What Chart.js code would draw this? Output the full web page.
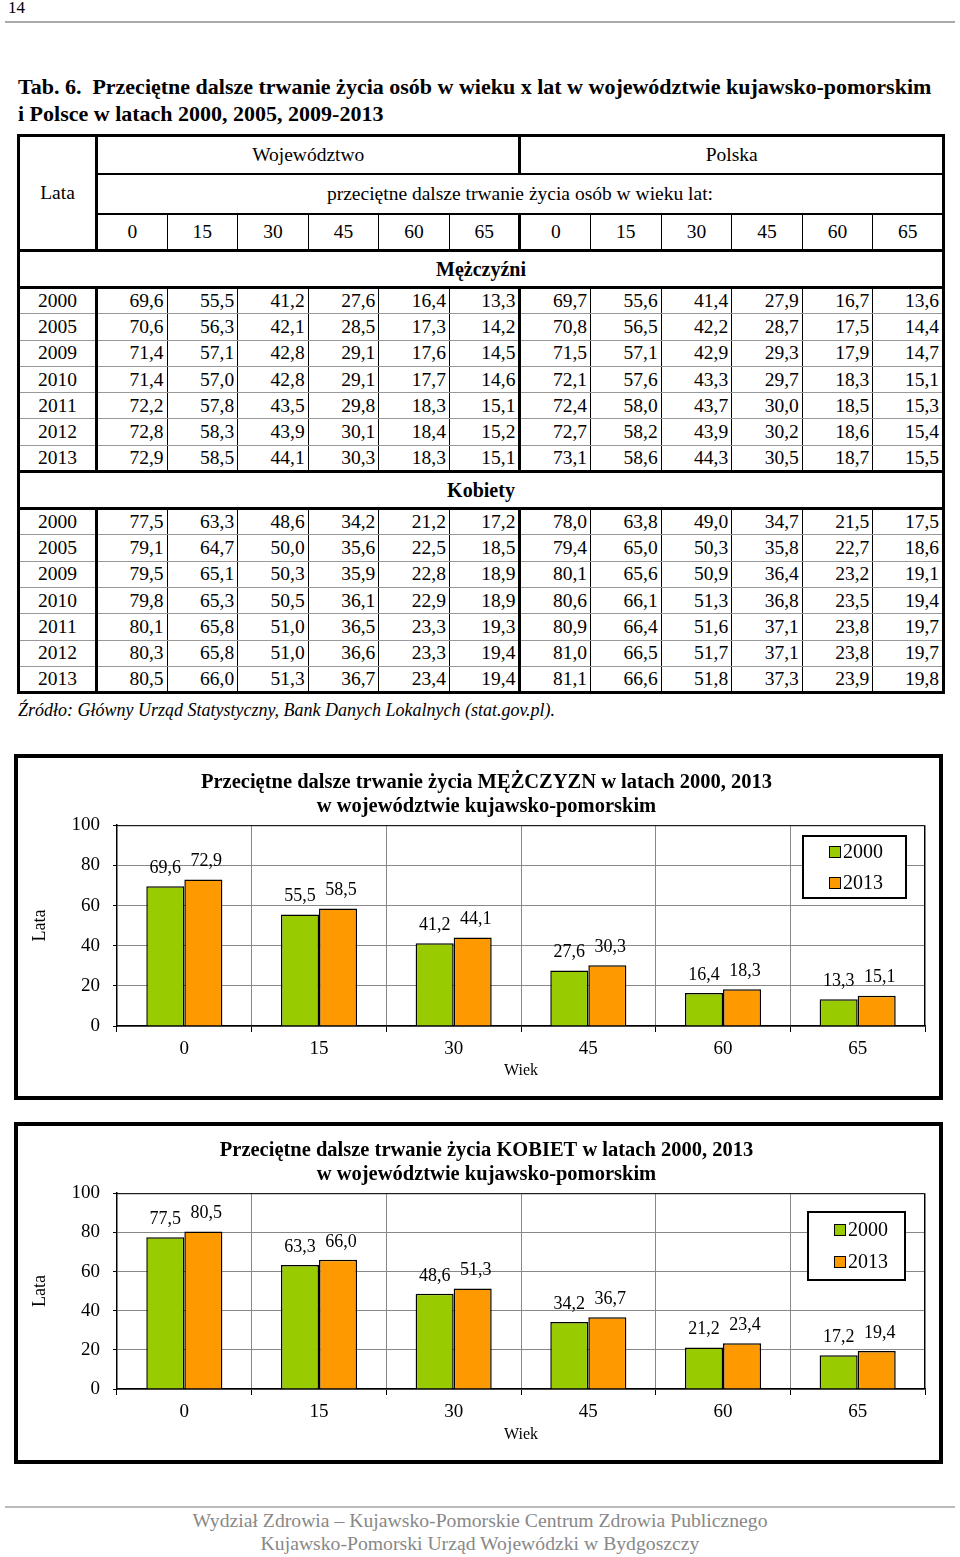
<!DOCTYPE html>
<html lang="pl">
<head>
<meta charset="UTF-8">
<title>Przeciętne dalsze trwanie życia - kujawsko-pomorskie</title>
<script src="https://cdn.jsdelivr.net/npm/chart.js"></script>
<style>
    body {
        margin: 0;
        width: 960px;
        height: 1557px;
        position: relative;
        font-family: "Liberation Serif", serif;
        color: #000;
        background: #fff;
    }
    .abs { position: absolute; }
    #pageNo { left: 8px; top: -2px; font-size: 17px; }
    #topLine { left: 5px; top: 21px; width: 950px; border-top: 2px solid #aaa; }
    #heading { left: 18px; top: 73px; font-size: 22px; font-weight: bold; line-height: 27px; white-space: nowrap; }

    /* table */
    #tbl {
        left: 17px; top: 134px; width: 928px;
        border-collapse: collapse;
        table-layout: fixed;
        border: 3px solid #000;
        font-size: 19.5px;
    }
    #tbl td { padding: 0; border: 1px solid #000; line-height: 20px; }
    #tbl td.c { text-align: center; }
    #tbl td.r { text-align: right; padding-right: 3px; }
    #tbl tr.data td { border-top: 1px solid #999; border-bottom: 1px solid #999; }
    #tbl td.thickR { border-right: 3px solid #000; }
    #tbl tr.sec td { border-top: 3px solid #000; border-bottom: 3px solid #000; font-weight: bold; font-size: 20px; text-align: center; }
    #tbl tr.h1 td { border-bottom: 2px solid #000; }
    #tbl tr.h2 td { border-bottom: 2px solid #000; }

    #source { left: 18px; top: 700px; font-size: 18px; font-style: italic; white-space: nowrap; }

    .chartBox { left: 14px; width: 921px; border: 4px solid #000; }
    .chartBox canvas { display: block; }

    #footLine { left: 5px; top: 1506px; width: 950px; border-top: 2px solid #bbb; }
    #footer { left: 0; top: 1509px; width: 960px; text-align: center; color: #888; font-size: 19.7px; line-height: 23px; }
</style>
</head>
<body>
    <div id="pageNo" class="abs">14</div>
    <div id="topLine" class="abs"></div>
    <div id="heading" class="abs">Tab. 6.&nbsp; Przeciętne dalsze trwanie życia osób w wieku x lat w województwie kujawsko-pomorskim<br>i Polsce w latach 2000, 2005, 2009-2013</div>

    <table id="tbl" class="abs"></table>

    <div id="source" class="abs">Źródło: Główny Urząd Statystyczny, Bank Danych Lokalnych (stat.gov.pl).</div>

    <div class="abs chartBox" style="top:754px; height:338px;">
        <canvas id="menChart" width="921" height="338"></canvas>
    </div>
    <div class="abs chartBox" style="top:1122px; height:334px;">
        <canvas id="womenChart" width="921" height="334"></canvas>
    </div>

    <div id="footLine" class="abs"></div>
    <div id="footer" class="abs">Wydział Zdrowia – Kujawsko-Pomorskie Centrum Zdrowia Publicznego<br>Kujawsko-Pomorski Urząd Wojewódzki w Bydgoszczy</div>

<script>
// ---- data ----
const years = ['2000', '2005', '2009', '2010', '2011', '2012', '2013'];
const ages = ['0', '15', '30', '45', '60', '65'];

// Mężczyźni - województwo / Polska (rows follow years)
const menWoj = [
    [69.6, 55.5, 41.2, 27.6, 16.4, 13.3],
    [70.6, 56.3, 42.1, 28.5, 17.3, 14.2],
    [71.4, 57.1, 42.8, 29.1, 17.6, 14.5],
    [71.4, 57.0, 42.8, 29.1, 17.7, 14.6],
    [72.2, 57.8, 43.5, 29.8, 18.3, 15.1],
    [72.8, 58.3, 43.9, 30.1, 18.4, 15.2],
    [72.9, 58.5, 44.1, 30.3, 18.3, 15.1]
];
const menPol = [
    [69.7, 55.6, 41.4, 27.9, 16.7, 13.6],
    [70.8, 56.5, 42.2, 28.7, 17.5, 14.4],
    [71.5, 57.1, 42.9, 29.3, 17.9, 14.7],
    [72.1, 57.6, 43.3, 29.7, 18.3, 15.1],
    [72.4, 58.0, 43.7, 30.0, 18.5, 15.3],
    [72.7, 58.2, 43.9, 30.2, 18.6, 15.4],
    [73.1, 58.6, 44.3, 30.5, 18.7, 15.5]
];
// Kobiety - województwo / Polska
const womenWoj = [
    [77.5, 63.3, 48.6, 34.2, 21.2, 17.2],
    [79.1, 64.7, 50.0, 35.6, 22.5, 18.5],
    [79.5, 65.1, 50.3, 35.9, 22.8, 18.9],
    [79.8, 65.3, 50.5, 36.1, 22.9, 18.9],
    [80.1, 65.8, 51.0, 36.5, 23.3, 19.3],
    [80.3, 65.8, 51.0, 36.6, 23.3, 19.4],
    [80.5, 66.0, 51.3, 36.7, 23.4, 19.4]
];
const womenPol = [
    [78.0, 63.8, 49.0, 34.7, 21.5, 17.5],
    [79.4, 65.0, 50.3, 35.8, 22.7, 18.6],
    [80.1, 65.6, 50.9, 36.4, 23.2, 19.1],
    [80.6, 66.1, 51.3, 36.8, 23.5, 19.4],
    [80.9, 66.4, 51.6, 37.1, 23.8, 19.7],
    [81.0, 66.5, 51.7, 37.1, 23.8, 19.7],
    [81.1, 66.6, 51.8, 37.3, 23.9, 19.8]
];

// chart series (województwo, 2000 vs 2013)
const men2000 = [69.6, 55.5, 41.2, 27.6, 16.4, 13.3];
const men2013 = [72.9, 58.5, 44.1, 30.3, 18.3, 15.1];
const women2000 = [77.5, 63.3, 48.6, 34.2, 21.2, 17.2];
const women2013 = [80.5, 66.0, 51.3, 36.7, 23.4, 19.4];
const yTicks = [0, 20, 40, 60, 80, 100];

const fmt = v => v.toFixed(1).replace('.', ',');

// ---- table ----
function buildTable() {
    let html = '<colgroup><col style="width:78px">';
    for (let i = 0; i < 12; i++) html += '<col>';
    html += '</colgroup>';

    html += '<tr class="h1" style="height:38px"><td class="c thickR" rowspan="3">Lata</td>' +
            '<td class="c thickR" colspan="6">Województwo</td><td class="c" colspan="6">Polska</td></tr>';
    html += '<tr class="h2" style="height:40px"><td class="c" colspan="12">przeciętne dalsze trwanie życia osób w wieku lat:</td></tr>';
    html += '<tr style="height:37px">';
    ages.concat(ages).forEach((a, i) => {
        html += '<td class="c' + (i === 5 ? ' thickR' : '') + '">' + a + '</td>';
    });
    html += '</tr>';

    function section(title, woj, pol) {
        let s = '<tr class="sec" style="height:37px"><td colspan="13">' + title + '</td></tr>';
        years.forEach((y, r) => {
            s += '<tr class="data" style="height:26.3px"><td class="c thickR">' + y + '</td>';
            woj[r].forEach((v, i) => {
                s += '<td class="r' + (i === 5 ? ' thickR' : '') + '">' + fmt(v) + '</td>';
            });
            pol[r].forEach(v => { s += '<td class="r">' + fmt(v) + '</td>'; });
            s += '</tr>';
        });
        return s;
    }
    html += section('Mężczyźni', menWoj, menPol);
    html += section('Kobiety', womenWoj, womenPol);
    document.getElementById('tbl').innerHTML = html;
}
buildTable();

// ---- chart plugins ----
const valueLabels = {
    id: 'valueLabels',
    afterDatasetsDraw(chart) {
        const ctx = chart.ctx;
        ctx.save();
        ctx.font = '18px "Liberation Serif"';
        ctx.fillStyle = '#000';
        ctx.textAlign = 'center';
        ctx.textBaseline = 'middle';
        chart.data.datasets.forEach((ds, i) => {
            chart.getDatasetMeta(i).data.forEach((bar, j) => {
                ctx.fillText(fmt(ds.data[j]), bar.x + (i === 1 ? 3 : 0), bar.y - 18);
            });
        });
        ctx.restore();
    }
};

const plotFrame = {
    id: 'plotFrame',
    afterDraw(chart) {
        const a = chart.chartArea, ctx = chart.ctx;
        ctx.save();
        ctx.strokeStyle = '#000';
        ctx.lineWidth = 1;
        ctx.beginPath();
        ctx.moveTo(a.left, a.top + 0.5);
        ctx.lineTo(a.right - 0.5, a.top + 0.5);
        ctx.lineTo(a.right - 0.5, a.bottom);
        ctx.stroke();
        ctx.restore();
    }
};

// legend drawn as a box inside the plot area
const boxLegend = {
    id: 'boxLegend',
    afterDraw(chart, args, opts) {
        const ctx = chart.ctx;
        ctx.save();
        ctx.fillStyle = '#fff';
        ctx.fillRect(opts.x, opts.y, opts.w, opts.h);
        ctx.strokeStyle = '#000';
        ctx.lineWidth = 2;
        ctx.strokeRect(opts.x, opts.y, opts.w, opts.h);
        ctx.font = '20px "Liberation Serif"';
        ctx.textBaseline = 'middle';
        ctx.textAlign = 'left';
        chart.data.datasets.forEach((ds, i) => {
            const cy = opts.y + opts.first + i * opts.gap;
            ctx.fillStyle = ds.backgroundColor;
            ctx.fillRect(opts.x + 26, cy - 6, 11, 11);
            ctx.lineWidth = 1;
            ctx.strokeRect(opts.x + 26.5, cy - 5.5, 11, 11);
            ctx.fillStyle = '#000';
            ctx.fillText(ds.label, opts.x + 40, cy + 1);
        });
        ctx.restore();
    }
};

function makeChart(id, titleLines, s2000, s2013, xHeight, legendPos) {
    return new Chart(document.getElementById(id), {
        type: 'bar',
        data: {
            labels: ages,
            datasets: [
                { label: '2000', data: s2000, backgroundColor: '#99cc00', borderColor: '#000', borderWidth: 1.5, borderSkipped: 'bottom' },
                { label: '2013', data: s2013, backgroundColor: '#ff9900', borderColor: '#000', borderWidth: 1.5, borderSkipped: 'bottom' }
            ]
        },
        options: {
            responsive: false,
            animation: false,
            devicePixelRatio: 1,
            categoryPercentage: 0.565,
            barPercentage: 1,
            // left padding shifts the title centre; y axis width makes up for it
            layout: { padding: { left: 30, right: 14, top: 0, bottom: 0 } },
            plugins: {
                legend: { display: false },
                tooltip: { enabled: false },
                title: {
                    display: true,
                    text: titleLines,
                    color: '#000',
                    font: { family: '"Liberation Serif"', size: 20.5, weight: 'bold', lineHeight: 1.2 },
                    padding: { top: 12, bottom: 6 }
                },
                boxLegend: legendPos
            },
            scales: {
                x: {
                    afterFit(scale) { scale.height = xHeight; },
                    grid: { offset: true, color: '#888', lineWidth: 1, tickLength: 6, tickColor: '#000' },
                    border: { color: '#000', width: 1.5 },
                    ticks: { color: '#000', padding: 6, font: { family: '"Liberation Serif"', size: 19 } },
                    title: {
                        display: true, text: 'Wiek', color: '#000',
                        font: { family: '"Liberation Serif"', size: 16 },
                        padding: { top: 0, bottom: 16 }
                    }
                },
                y: {
                    min: 0, max: 100,
                    afterFit(scale) { scale.width = 69; },
                    afterBuildTicks(scale) { scale.ticks = yTicks.map(v => ({ value: v })); },
                    grid: { color: '#888', lineWidth: 1, tickLength: 4, tickColor: '#000' },
                    border: { color: '#000', width: 1.5 },
                    ticks: { color: '#000', padding: 13, font: { family: '"Liberation Serif"', size: 19 } },
                    title: {
                        display: true, text: 'Lata', color: '#000',
                        font: { family: '"Liberation Serif"', size: 18 },
                        padding: { top: -19, bottom: 0 }
                    }
                }
            }
        },
        plugins: [valueLabels, plotFrame, boxLegend]
    });
}

makeChart('menChart',
    ['Przeciętne dalsze trwanie życia MĘŻCZYZN w latach 2000, 2013', 'w województwie kujawsko-pomorskim'],
    men2000, men2013, 70,
    { x: 785, y: 78, w: 103, h: 62, first: 16, gap: 31 });

makeChart('womenChart',
    ['Przeciętne dalsze trwanie życia KOBIET w latach 2000, 2013', 'w województwie kujawsko-pomorskim'],
    women2000, women2013, 71,
    { x: 790, y: 86, w: 97, h: 68, first: 18, gap: 32 });
</script>
</body>
</html>
